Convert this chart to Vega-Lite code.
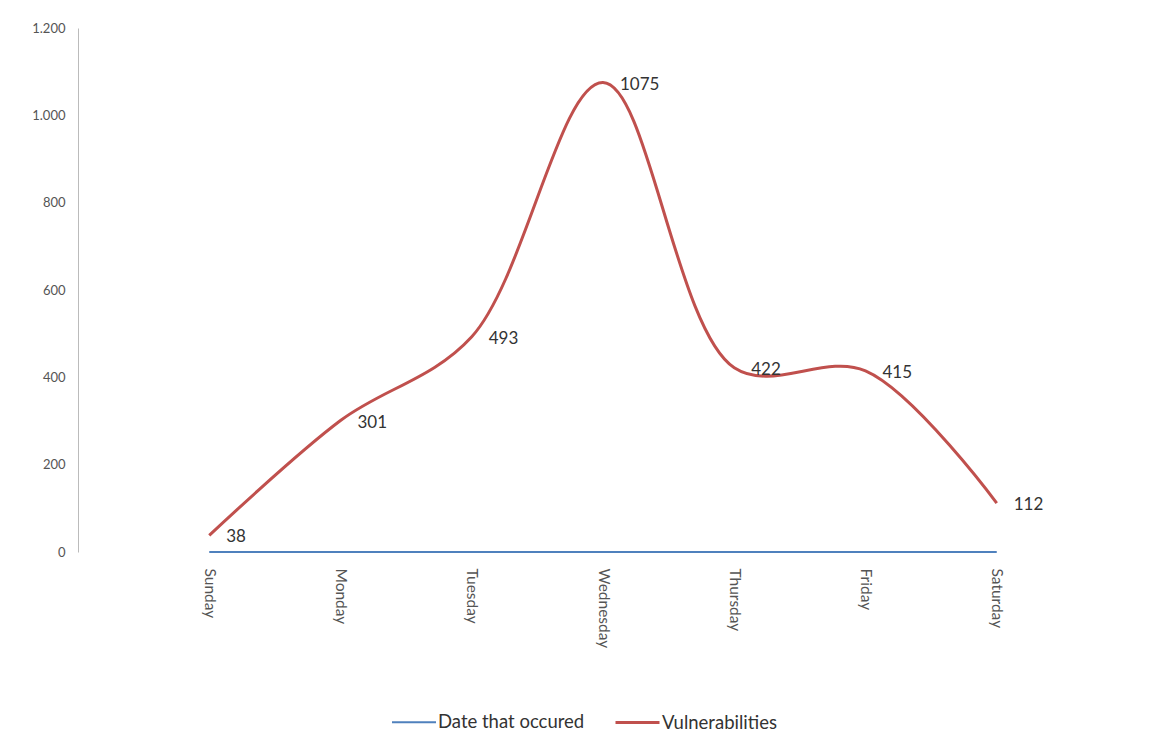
{
  "$schema": "https://vega.github.io/schema/vega-lite/v6.json",
  "autosize": {"type": "none"},
  "width": 1050,
  "height": 524,
  "padding": {"left": 78, "top": 28, "right": 21, "bottom": 193},
  "background": "white",
  "config": {
    "view": {"stroke": null},
    "font": "Lato",
    "axis": {"labelFont": "Lato", "labelColor": "#555555", "domainColor": "#BBBBBB", "tickColor": "#BBBBBB", "grid": false}
  },
  "data": {
    "values": [
      {"day": "Sunday", "series": "Date that occured", "value": 0},
      {"day": "Monday", "series": "Date that occured", "value": 0},
      {"day": "Tuesday", "series": "Date that occured", "value": 0},
      {"day": "Wednesday", "series": "Date that occured", "value": 0},
      {"day": "Thursday", "series": "Date that occured", "value": 0},
      {"day": "Friday", "series": "Date that occured", "value": 0},
      {"day": "Saturday", "series": "Date that occured", "value": 0},
      {"day": "Sunday", "series": "Vulnerabilities", "value": 38},
      {"day": "Monday", "series": "Vulnerabilities", "value": 301},
      {"day": "Tuesday", "series": "Vulnerabilities", "value": 493},
      {"day": "Wednesday", "series": "Vulnerabilities", "value": 1075},
      {"day": "Thursday", "series": "Vulnerabilities", "value": 422},
      {"day": "Friday", "series": "Vulnerabilities", "value": 415},
      {"day": "Saturday", "series": "Vulnerabilities", "value": 112}
    ]
  },
  "encoding": {
    "x": {
      "field": "day", "type": "ordinal",
      "sort": ["Sunday", "Monday", "Tuesday", "Wednesday", "Thursday", "Friday", "Saturday"],
      "scale": {"type": "point", "padding": 1},
      "axis": {"title": null, "labelAngle": 90, "labelAlign": "left", "labelBaseline": "middle", "domain": false, "ticks": false, "labelPadding": 16, "labelFontSize": 15.5}
    },
    "y": {
      "field": "value", "type": "quantitative",
      "scale": {"domain": [0, 1200]},
      "axis": {"title": null, "values": [0, 200, 400, 600, 800, 1000, 1200], "labelExpr": "replace(format(datum.value, ','), ',', '.')", "ticks": false, "labelPadding": 13, "labelFontSize": 13}
    }
  },
  "layer": [
    {
      "mark": {"type": "line", "interpolate": "catmull-rom"},
      "encoding": {
        "color": {
          "field": "series", "type": "nominal",
          "scale": {"domain": ["Date that occured", "Vulnerabilities"], "range": ["#4F81BD", "#C0504D"]},
          "legend": {
            "title": null, "orient": "none", "direction": "horizontal",
            "legendX": 313, "legendY": 671,
            "symbolType": "stroke", "symbolSize": 1936, "symbolStrokeWidth": 2.5,
            "labelFontSize": 18.5, "labelColor": "#333333", "labelFont": "Lato", "columnPadding": 24, "labelOffset": 1
          }
        },
        "strokeWidth": {
          "field": "series", "type": "nominal",
          "scale": {"domain": ["Date that occured", "Vulnerabilities"], "range": [2, 3]},
          "legend": null
        }
      }
    },
    {
      "transform": [{"filter": "datum.series === 'Vulnerabilities'"}],
      "mark": {"type": "text", "align": "left", "dx": 17, "dy": 2, "fontSize": 17, "color": "#333333", "font": "Lato"},
      "encoding": {"text": {"field": "value", "type": "quantitative"}}
    }
  ]
}
